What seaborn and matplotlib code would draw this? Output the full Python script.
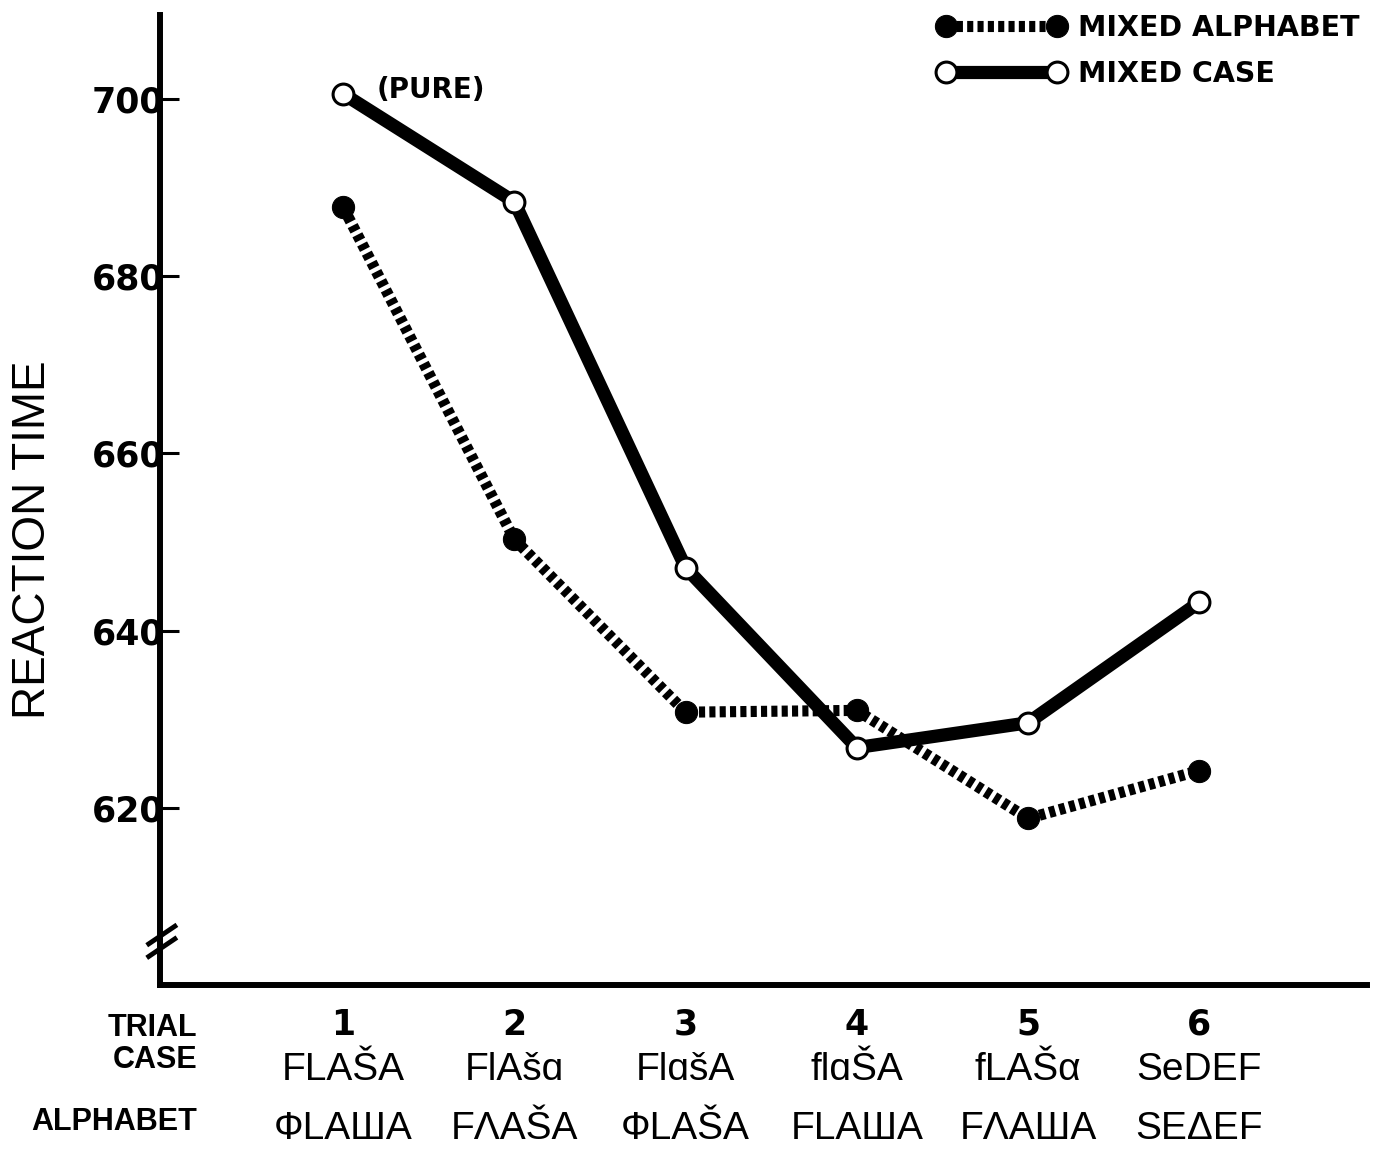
import seaborn as sns
import matplotlib
matplotlib.use("Agg")
import matplotlib.pyplot as plt
import pandas as pd

# data
trials = [1, 2, 3, 4, 5, 6]
mixed_alphabet = [687.8, 650.3, 630.8, 631.0, 618.8, 624.2]
mixed_case = [700.6, 688.4, 647.1, 626.8, 629.6, 643.2]
case_labels = ["FLAŠA", "FlAšɑ", "FlɑšA", "flɑŠA", "fLAŠα", "SeDEF"]
alphabet_labels = ["ФLAШA", "FΛAŠA", "ФLAŠA", "FLAШA", "FΛAШA", "SEΔEF"]
y_ticks = [620, 640, 660, 680, 700]

sns.set_style("white")
plt.rcParams["font.family"] = ["Liberation Sans", "DejaVu Sans"]
plt.rcParams["text.color"] = "black"
plt.rcParams["ytick.color"] = "black"
plt.rcParams["ytick.labelcolor"] = "black"

df = pd.DataFrame({"trial": trials, "alpha": mixed_alphabet, "case": mixed_case})

fig = plt.figure(figsize=(13.76, 11.53), dpi=100)
W, H = 1376, 1153
ax = fig.add_axes([160 / W, 1 - 985 / H, 1207 / W, 970 / H])

sns.lineplot(data=df, x="trial", y="case", ax=ax, color="black", lw=9.5,
             marker="o", ms=15, markerfacecolor="white", markeredgecolor="black",
             markeredgewidth=2.2, label="MIXED CASE", zorder=2)
sns.lineplot(data=df, x="trial", y="alpha", ax=ax, color="black", lw=8,
             linestyle=(0, (0.55, 0.38)), marker="o", ms=16,
             markerfacecolor="black", markeredgecolor="black",
             label="MIXED ALPHABET", zorder=3)
for ln in ax.lines:
    ln.set_dash_capstyle("butt")

ax.set_xlim(-0.07, 6.98)
ax.set_ylim(600, 709.5)
ax.set_xlabel("")
ax.set_ylabel("")
ax.set_xticks([])
ax.set_yticks(y_ticks)
ax.set_yticklabels([str(v) for v in y_ticks], family="DejaVu Sans",
                   fontweight="bold", fontsize=25)
ax.tick_params(axis="y", direction="in", length=14, width=2.2, pad=-3, left=True)
sns.despine(ax=ax)
for side in ["left", "bottom"]:
    ax.spines[side].set_linewidth(4.3)
    ax.spines[side].set_color("black")

# axis break marks
for y0, y1 in [(0.041, 0.062), (0.028, 0.049)]:
    ax.plot([-0.011, 0.014], [y0, y1], transform=ax.transAxes, color="black",
            lw=3.5, clip_on=False, solid_capstyle="butt")

# (PURE) note on the first mixed-case point
ax.annotate("(PURE)", xy=(trials[0], mixed_case[0]), xytext=(24, 3),
            textcoords="offset points", ha="left", va="center",
            fontsize=20, fontweight="bold", family="DejaVu Sans")

# bottom rows of labels
tr = ax.get_xaxis_transform()
for t, c, a in zip(trials, case_labels, alphabet_labels):
    ax.text(t, -0.0412, str(t), transform=tr, ha="center", va="center",
            fontsize=25, fontweight="bold", family="DejaVu Sans")
    ax.text(t, -0.088, c, transform=tr, ha="center", va="center", fontsize=28)
    ax.text(t, -0.148, a, transform=tr, ha="center", va="center", fontsize=28)

fig.text(197 / W, 1 - 1028 / H, "TRIAL", ha="right", va="center",
         fontsize=22, fontweight="bold")
fig.text(197 / W, 1 - 1060 / H, "CASE", ha="right", va="center",
         fontsize=22, fontweight="bold")
fig.text(197 / W, 1 - 1122 / H, "ALPHABET", ha="right", va="center",
         fontsize=22, fontweight="bold")

fig.text(33 / W, 1 - 540 / H, "REACTION TIME", rotation=90, ha="center",
         va="center", fontsize=33)

handles, labels = ax.get_legend_handles_labels()
ax.legend(handles[::-1], labels[::-1], loc="upper left",
          bbox_to_anchor=(937 / W, 1 - 14 / H), bbox_transform=fig.transFigure,
          frameon=False, numpoints=2, handlelength=4.5, handletextpad=0.45,
          borderpad=0, borderaxespad=0, labelspacing=0.62,
          prop={"family": "DejaVu Sans", "weight": "bold", "size": 20.5})

fig.savefig("out.png", dpi=100)
